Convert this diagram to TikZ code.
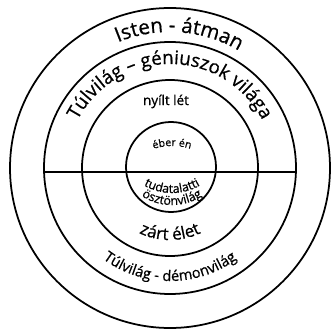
\documentclass[tikz,border=0pt]{standalone}
\usepackage{fontspec}
\setmainfont{Open Sans}[FakeBold=0.7]
\usetikzlibrary{calc,decorations.text}
\definecolor{ink}{RGB}{0,0,0}
\tikzset{
  ring/.style={draw=ink, line width=1.5pt},
  bend/.style={decorate, decoration={text along path, text align=center, text={#1}}},
  flat/.style={font=\fontsize{11.5}{13}\selectfont, text=ink, inner sep=0pt, anchor=base},
}
\newcommand{\fsz}[1]{\fontsize{#1}{#1}\selectfont}

\begin{document}
\begin{tikzpicture}[x=0.03cm,y=0.03cm]
        \useasboundingbox (-170,-161) rectangle (163,168);

        \draw[ring] (0,0) circle[radius=160];
        \draw[ring] (0,0) circle[radius=126];
        \draw[ring] (0,0) circle[radius=88];
        \draw[ring] (1,1) circle[radius=45];

        \coordinate (lineW) at (-126,-4);
        \coordinate (lineE) at (126,-4);
        \draw[ring] (lineW) -- (lineE);

        \path[bend={|\fsz{17.5}|Isten - átman}] (172:136) arc[start angle=172, end angle=0, radius=136];
        \path[bend={|\fsz{16}|Túlvilág – géniuszok világa}] (180:104) arc[start angle=180, end angle=0, radius=104];
        \node[flat] (open) at (-4,63) {nyílt lét};
        \path[bend={|\fsz{9}|éber én}] ($(2,-38)+(130:60)$) arc[start angle=130, end angle=50, radius=60];

        \path[bend={|\fsz{10.5}|tudatalatti}] ($(2,31)+(220:56)$) arc[start angle=220, end angle=320, radius=56];
        \path[bend={|\fsz{10.5}|ösztönvilág}] ($(2,19)+(220:56)$) arc[start angle=220, end angle=320, radius=56];
        \path[bend={|\fsz{14.5}|zárt élet}] (200:72) arc[start angle=200, end angle=340, radius=72];
        \path[bend={|\fsz{12.5}|Túlvilág - démonvilág}] (190:113) arc[start angle=190, end angle=350, radius=113];
      \end{tikzpicture}
\end{document}
